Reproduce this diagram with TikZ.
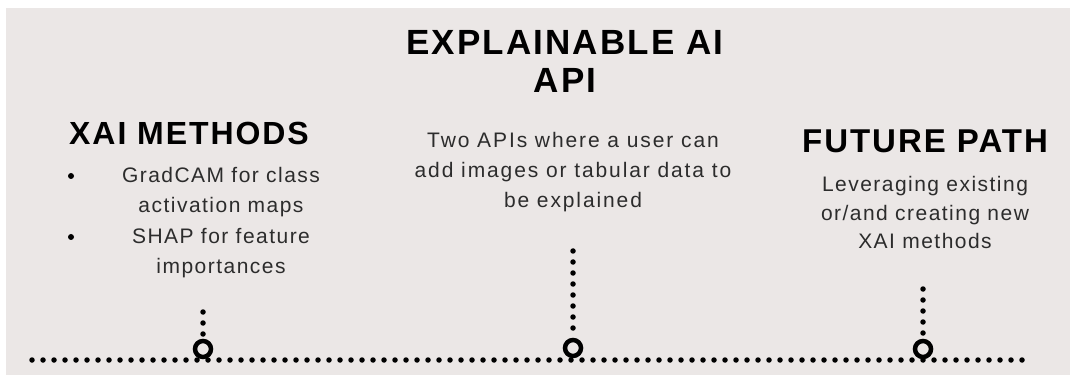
\documentclass[tikz,border=0pt]{standalone}
\usepackage{fontspec}
\setmainfont{Liberation Sans}
\newfontfamily\headfont[LetterSpace=6]{Liberation Sans}
\newfontfamily\bodyfont[LetterSpace=7]{Liberation Sans}
\newfontfamily\widebodyfont[LetterSpace=9]{Liberation Sans}
\usetikzlibrary{positioning}
\definecolor{bgGray}{HTML}{EBE7E6}
\definecolor{inkGray}{HTML}{2C2C2C}
\tikzstyle{bigtitle} = [font=\headfont\bfseries\fontsize{35}{38}\selectfont, align=center, anchor=base, inner sep=0pt]
\tikzstyle{heading} = [font=\headfont\bfseries\fontsize{32}{34}\selectfont, align=center, anchor=base, inner sep=0pt]
\tikzstyle{bigheading} = [font=\headfont\bfseries\fontsize{33}{34}\selectfont, align=center, anchor=base, inner sep=0pt]
\tikzstyle{detail} = [font=\bodyfont\fontsize{21}{30}\selectfont, text=inkGray, align=center, anchor=base, inner sep=0pt]
\tikzstyle{widedetail} = [font=\widebodyfont\fontsize{21}{30}\selectfont, text=inkGray, align=center, anchor=base, inner sep=0pt]
\tikzstyle{smalldetail} = [font=\bodyfont\fontsize{21}{28}\selectfont, text=inkGray, align=center, anchor=base, inner sep=0pt]
\tikzstyle{bulletdot} = [circle, fill=black, inner sep=0pt, minimum size=6pt]
\tikzstyle{milestone} = [circle, draw=black, line width=4.5pt, fill=bgGray, inner sep=0pt, minimum size=16pt]
\tikzstyle{dotline} = [line width=5.5pt, line cap=round, dash pattern=on 0pt off 11pt]

\begin{document}
\begin{tikzpicture}[x=1pt, y=-1pt]
\useasboundingbox (0,0) rectangle (1070,379);
\fill[bgGray] (6,8) rectangle (1070,375);
% titles (base = baseline of the last line)
\node (api) [bigtitle] at (565,93) {EXPLAINABLE AI\\API};
\node (methods) [heading] at (189,145) {XAI METHODS};
\node (future) [bigheading] at (925,153) {FUTURE PATH};
% texts
\node (gradcam) [detail] at (221,213) {GradCAM for class\\activation maps};
\node (shap) [detail] at (221,273) {SHAP for feature\\importances};
\node (bul1) [bulletdot] at (71,176) {};
\node (bul2) [bulletdot] at (71,237) {};
\node (apitext) [widedetail] at (573,208) {Two APIs where a user can\\add images or tabular data to\\be explained};
\node (futuretext) [smalldetail] at (925,248) {Leveraging existing\\or/and creating new\\XAI methods};
% timeline
\coordinate (tlstart) at (32,360);
\coordinate (tlend) at (1025,360);
\draw [dotline] (tlstart) -- (tlend);
\coordinate (top1) at (203,312);
\coordinate (top2) at (573,251);
\coordinate (top3) at (923,289);
\node (m1) [milestone] at (203,349) {};
\node (m2) [milestone] at (573,348) {};
\node (m3) [milestone] at (923,349) {};
\draw [dotline] (top1) -- (m1.north);
\draw [dotline] (top2) -- (m2.north);
\draw [dotline] (top3) -- (m3.north);
\end{tikzpicture}
\end{document}
